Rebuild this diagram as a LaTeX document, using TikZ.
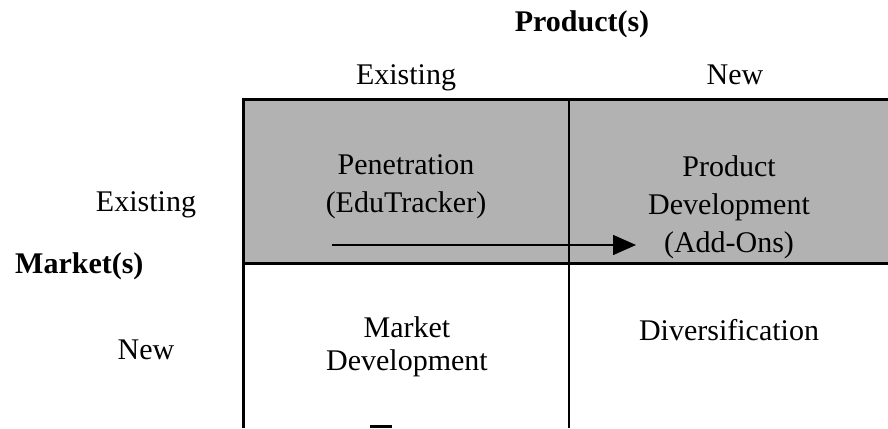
\documentclass[tikz,border=0pt]{standalone}
\usepackage{fontspec}
\setmainfont{Liberation Serif}
\usetikzlibrary{arrows.meta, positioning}

\begin{document}
\begin{tikzpicture}[
        x=1pt, y=-1pt,
        grid/.style={line width=3pt},
        cell/.style={align=center, font=\fontsize{30}{38}\selectfont},
        lowcell/.style={align=center, font=\fontsize{30}{33}\selectfont},
        heading/.style={font=\fontsize{30}{36}\selectfont},
        axis/.style={font=\bfseries\fontsize{30}{36}\selectfont},
        arrow/.style={line width=1.6pt, -{Triangle[length=23pt,width=20pt]}}
    ]
        \useasboundingbox (0,0) rectangle (888,428);

        % shaded top row and the grid lines
        \fill[black!30] (243,99) rectangle (888,263);
        \draw[grid] (243,428) -- (243,99) -- (888,99);
        \draw[grid] (243,263) -- (888,263);
        \draw[line width=2.5pt] (569,99) -- (569,428);
        \fill (370,425) rectangle (392,428);

        \node[axis] (product) at (582,24) {Product(s)};
        \node[heading, anchor=base] (colexist) at (406,84) {Existing};
        \node[heading, anchor=base] (colnew) at (735,84) {New};

        \node[heading] (rowexist) at (146,205) {Existing};
        \node[axis, anchor=west, inner sep=0pt] (market) at (15,266) {Market(s)};
        \node[heading] (rownew) at (146,350) {New};

        \node[cell] (penetration) at (406,187) {Penetration\\(EduTracker)};
        \node[cell] (proddev) at (729,207) {Product\\Development\\(Add-Ons)};
        \node[lowcell] (marketdev) at (407,347) {Market\\Development};
        \node[heading] (diversify) at (729,330) {Diversification};

        \coordinate (growstart) at (332,245);
        \coordinate (growend) at (636,245);
        \draw[arrow] (growstart) -- (growend);
    \end{tikzpicture}
\end{document}
